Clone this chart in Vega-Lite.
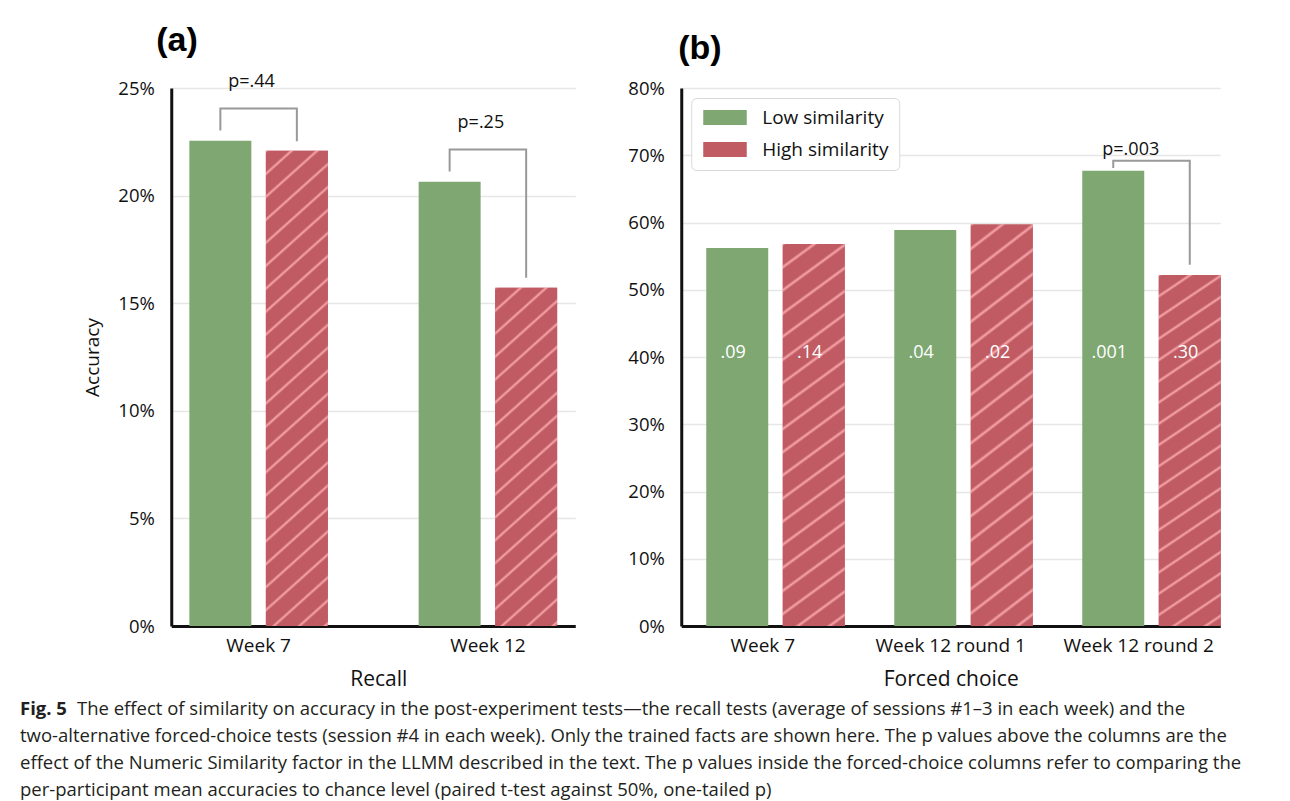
{
  "$schema": "https://vega.github.io/schema/vega-lite/v6.json",
  "background": "white",
  "padding": {"left": 20, "top": 23, "right": 0, "bottom": 0},
  "datasets": {
    "recall": [
      {"week": "Week 7", "similarity": "Low similarity", "accuracy": 0.2255},
      {"week": "Week 7", "similarity": "High similarity", "accuracy": 0.2208},
      {"week": "Week 12", "similarity": "Low similarity", "accuracy": 0.2064},
      {"week": "Week 12", "similarity": "High similarity", "accuracy": 0.1572}
    ],
    "forced": [
      {"week": "Week 7", "similarity": "Low similarity", "accuracy": 0.562, "p_chance": ".09"},
      {"week": "Week 7", "similarity": "High similarity", "accuracy": 0.568, "p_chance": ".14"},
      {"week": "Week 12 round 1", "similarity": "Low similarity", "accuracy": 0.589, "p_chance": ".04"},
      {"week": "Week 12 round 1", "similarity": "High similarity", "accuracy": 0.597, "p_chance": ".02"},
      {"week": "Week 12 round 2", "similarity": "Low similarity", "accuracy": 0.677, "p_chance": ".001"},
      {"week": "Week 12 round 2", "similarity": "High similarity", "accuracy": 0.522, "p_chance": ".30"}
    ],
    "recall_brackets": [
      {"week": "Week 7", "similarity": "Low similarity", "step": 1, "y": 0.2303},
      {"week": "Week 7", "similarity": "Low similarity", "step": 2, "y": 0.2405},
      {"week": "Week 7", "similarity": "High similarity", "step": 3, "y": 0.2405},
      {"week": "Week 7", "similarity": "High similarity", "step": 4, "y": 0.2252},
      {"week": "Week 12", "similarity": "Low similarity", "step": 1, "y": 0.2112},
      {"week": "Week 12", "similarity": "Low similarity", "step": 2, "y": 0.2214},
      {"week": "Week 12", "similarity": "High similarity", "step": 3, "y": 0.2214},
      {"week": "Week 12", "similarity": "High similarity", "step": 4, "y": 0.1618}
    ],
    "recall_p": [
      {"week": "Week 7", "y": 0.2529, "label": "p=.44"},
      {"week": "Week 12", "y": 0.2338, "label": "p=.25"}
    ],
    "forced_brackets": [
      {"week": "Week 12 round 2", "similarity": "Low similarity", "step": 1, "y": 0.681},
      {"week": "Week 12 round 2", "similarity": "Low similarity", "step": 2, "y": 0.692},
      {"week": "Week 12 round 2", "similarity": "High similarity", "step": 3, "y": 0.692},
      {"week": "Week 12 round 2", "similarity": "High similarity", "step": 4, "y": 0.537}
    ],
    "forced_p": [
      {"week": "Week 12 round 2", "y": 0.708, "label": "p=.003"}
    ],
    "caption": [
      {"line": 1, "part": "label", "text": "Fig. 5"},
      {"line": 1, "part": "lead", "text": "The effect of similarity on accuracy in the post-experiment tests—the recall tests (average of sessions #1–3 in each week) and the"},
      {"line": 2, "part": "body", "text": "two-alternative forced-choice tests (session #4 in each week). Only the trained facts are shown here. The p values above the columns are the"},
      {"line": 3, "part": "body", "text": "effect of the Numeric Similarity factor in the LLMM described in the text. The p values inside the forced-choice columns refer to comparing the"},
      {"line": 4, "part": "body", "text": "per-participant mean accuracies to chance level (paired t-test against 50%, one-tailed p)"}
    ]
  },
  "vconcat": [
    {
      "hconcat": [
        {
          "title": {"text": "(a)", "dx": -15, "offset": 15},
          "width": 404,
          "height": 538,
          "layer": [
            {
              "data": {"name": "recall"},
              "mark": {"type": "bar"},
              "encoding": {
                "x": {"field": "week", "type": "nominal", "scale": {"domain": ["Week 7", "Week 12"], "paddingInner": 0.396, "paddingOuter": 0.079}, "axis": {"title": "Recall", "titleX": 207}},
                "xOffset": {"field": "similarity", "type": "nominal", "scale": {"domain": ["Low similarity", "High similarity"], "paddingInner": 0.19, "paddingOuter": 0}},
                "y": {"field": "accuracy", "type": "quantitative", "scale": {"domain": [0, 0.25], "nice": false}, "axis": {"title": "Accuracy", "values": [0, 0.05, 0.1, 0.15, 0.2, 0.25], "format": ".0%"}},
                "color": {"field": "similarity", "type": "nominal", "scale": {"domain": ["Low similarity", "High similarity"], "range": ["#7ea772", "#c05b63"]}, "legend": null}
              }
            },
            {
              "data": {"name": "recall"},
              "transform": [{"filter": "datum.similarity === 'High similarity' && datum.week === 'Week 7'"}],
              "mark": {"type": "bar", "fill": {"gradient": "linear", "x1": 0, "y1": 0, "x2": 0.1339, "y2": 1.1441, "stops": [{"offset":0,"color":"#f8a5aa"},{"offset":0.005,"color":"#c05b63"},{"offset":0.0367,"color":"#c05b63"},{"offset":0.0417,"color":"#f8a5aa"},{"offset":0.0467,"color":"#c05b63"},{"offset":0.0783,"color":"#c05b63"},{"offset":0.0833,"color":"#f8a5aa"},{"offset":0.0883,"color":"#c05b63"},{"offset":0.12,"color":"#c05b63"},{"offset":0.125,"color":"#f8a5aa"},{"offset":0.13,"color":"#c05b63"},{"offset":0.1617,"color":"#c05b63"},{"offset":0.1667,"color":"#f8a5aa"},{"offset":0.1717,"color":"#c05b63"},{"offset":0.2033,"color":"#c05b63"},{"offset":0.2083,"color":"#f8a5aa"},{"offset":0.2133,"color":"#c05b63"},{"offset":0.245,"color":"#c05b63"},{"offset":0.25,"color":"#f8a5aa"},{"offset":0.255,"color":"#c05b63"},{"offset":0.2867,"color":"#c05b63"},{"offset":0.2917,"color":"#f8a5aa"},{"offset":0.2967,"color":"#c05b63"},{"offset":0.3283,"color":"#c05b63"},{"offset":0.3333,"color":"#f8a5aa"},{"offset":0.3383,"color":"#c05b63"},{"offset":0.37,"color":"#c05b63"},{"offset":0.375,"color":"#f8a5aa"},{"offset":0.38,"color":"#c05b63"},{"offset":0.4117,"color":"#c05b63"},{"offset":0.4167,"color":"#f8a5aa"},{"offset":0.4217,"color":"#c05b63"},{"offset":0.4533,"color":"#c05b63"},{"offset":0.4583,"color":"#f8a5aa"},{"offset":0.4633,"color":"#c05b63"},{"offset":0.495,"color":"#c05b63"},{"offset":0.5,"color":"#f8a5aa"},{"offset":0.505,"color":"#c05b63"},{"offset":0.5367,"color":"#c05b63"},{"offset":0.5417,"color":"#f8a5aa"},{"offset":0.5467,"color":"#c05b63"},{"offset":0.5783,"color":"#c05b63"},{"offset":0.5833,"color":"#f8a5aa"},{"offset":0.5883,"color":"#c05b63"},{"offset":0.62,"color":"#c05b63"},{"offset":0.625,"color":"#f8a5aa"},{"offset":0.63,"color":"#c05b63"},{"offset":0.6617,"color":"#c05b63"},{"offset":0.6667,"color":"#f8a5aa"},{"offset":0.6717,"color":"#c05b63"},{"offset":0.7033,"color":"#c05b63"},{"offset":0.7083,"color":"#f8a5aa"},{"offset":0.7133,"color":"#c05b63"},{"offset":0.745,"color":"#c05b63"},{"offset":0.75,"color":"#f8a5aa"},{"offset":0.755,"color":"#c05b63"},{"offset":0.7867,"color":"#c05b63"},{"offset":0.7917,"color":"#f8a5aa"},{"offset":0.7967,"color":"#c05b63"},{"offset":0.8283,"color":"#c05b63"},{"offset":0.8333,"color":"#f8a5aa"},{"offset":0.8383,"color":"#c05b63"},{"offset":0.87,"color":"#c05b63"},{"offset":0.875,"color":"#f8a5aa"},{"offset":0.88,"color":"#c05b63"},{"offset":0.9117,"color":"#c05b63"},{"offset":0.9167,"color":"#f8a5aa"},{"offset":0.9217,"color":"#c05b63"},{"offset":0.9533,"color":"#c05b63"},{"offset":0.9583,"color":"#f8a5aa"},{"offset":0.9633,"color":"#c05b63"},{"offset":0.995,"color":"#c05b63"},{"offset":1,"color":"#f8a5aa"}]}},
              "encoding": {
                "x": {"field": "week", "type": "nominal"},
                "xOffset": {"field": "similarity", "type": "nominal"},
                "y": {"field": "accuracy", "type": "quantitative"}
              }
            },
            {
              "data": {"name": "recall"},
              "transform": [{"filter": "datum.similarity === 'High similarity' && datum.week === 'Week 12'"}],
              "mark": {"type": "bar", "fill": {"gradient": "linear", "x1": 0, "y1": 0, "x2": 0.2607, "y2": 1.5855, "stops": [{"offset":0,"color":"#f8a5aa"},{"offset":0.005,"color":"#c05b63"},{"offset":0.0367,"color":"#c05b63"},{"offset":0.0417,"color":"#f8a5aa"},{"offset":0.0467,"color":"#c05b63"},{"offset":0.0783,"color":"#c05b63"},{"offset":0.0833,"color":"#f8a5aa"},{"offset":0.0883,"color":"#c05b63"},{"offset":0.12,"color":"#c05b63"},{"offset":0.125,"color":"#f8a5aa"},{"offset":0.13,"color":"#c05b63"},{"offset":0.1617,"color":"#c05b63"},{"offset":0.1667,"color":"#f8a5aa"},{"offset":0.1717,"color":"#c05b63"},{"offset":0.2033,"color":"#c05b63"},{"offset":0.2083,"color":"#f8a5aa"},{"offset":0.2133,"color":"#c05b63"},{"offset":0.245,"color":"#c05b63"},{"offset":0.25,"color":"#f8a5aa"},{"offset":0.255,"color":"#c05b63"},{"offset":0.2867,"color":"#c05b63"},{"offset":0.2917,"color":"#f8a5aa"},{"offset":0.2967,"color":"#c05b63"},{"offset":0.3283,"color":"#c05b63"},{"offset":0.3333,"color":"#f8a5aa"},{"offset":0.3383,"color":"#c05b63"},{"offset":0.37,"color":"#c05b63"},{"offset":0.375,"color":"#f8a5aa"},{"offset":0.38,"color":"#c05b63"},{"offset":0.4117,"color":"#c05b63"},{"offset":0.4167,"color":"#f8a5aa"},{"offset":0.4217,"color":"#c05b63"},{"offset":0.4533,"color":"#c05b63"},{"offset":0.4583,"color":"#f8a5aa"},{"offset":0.4633,"color":"#c05b63"},{"offset":0.495,"color":"#c05b63"},{"offset":0.5,"color":"#f8a5aa"},{"offset":0.505,"color":"#c05b63"},{"offset":0.5367,"color":"#c05b63"},{"offset":0.5417,"color":"#f8a5aa"},{"offset":0.5467,"color":"#c05b63"},{"offset":0.5783,"color":"#c05b63"},{"offset":0.5833,"color":"#f8a5aa"},{"offset":0.5883,"color":"#c05b63"},{"offset":0.62,"color":"#c05b63"},{"offset":0.625,"color":"#f8a5aa"},{"offset":0.63,"color":"#c05b63"},{"offset":0.6617,"color":"#c05b63"},{"offset":0.6667,"color":"#f8a5aa"},{"offset":0.6717,"color":"#c05b63"},{"offset":0.7033,"color":"#c05b63"},{"offset":0.7083,"color":"#f8a5aa"},{"offset":0.7133,"color":"#c05b63"},{"offset":0.745,"color":"#c05b63"},{"offset":0.75,"color":"#f8a5aa"},{"offset":0.755,"color":"#c05b63"},{"offset":0.7867,"color":"#c05b63"},{"offset":0.7917,"color":"#f8a5aa"},{"offset":0.7967,"color":"#c05b63"},{"offset":0.8283,"color":"#c05b63"},{"offset":0.8333,"color":"#f8a5aa"},{"offset":0.8383,"color":"#c05b63"},{"offset":0.87,"color":"#c05b63"},{"offset":0.875,"color":"#f8a5aa"},{"offset":0.88,"color":"#c05b63"},{"offset":0.9117,"color":"#c05b63"},{"offset":0.9167,"color":"#f8a5aa"},{"offset":0.9217,"color":"#c05b63"},{"offset":0.9533,"color":"#c05b63"},{"offset":0.9583,"color":"#f8a5aa"},{"offset":0.9633,"color":"#c05b63"},{"offset":0.995,"color":"#c05b63"},{"offset":1,"color":"#f8a5aa"}]}},
              "encoding": {
                "x": {"field": "week", "type": "nominal"},
                "xOffset": {"field": "similarity", "type": "nominal"},
                "y": {"field": "accuracy", "type": "quantitative"}
              }
            },
            {
              "data": {"name": "recall_brackets"},
              "mark": {"type": "line", "color": "#999999", "strokeWidth": 2, "strokeJoin": "miter"},
              "encoding": {
                "x": {"field": "week", "type": "nominal"},
                "xOffset": {"field": "similarity", "type": "nominal"},
                "y": {"field": "y", "type": "quantitative"},
                "detail": {"field": "week"},
                "order": {"field": "step", "type": "quantitative"}
              }
            },
            {
              "data": {"name": "recall_p"},
              "mark": {"type": "text", "fontSize": 18, "dx": -7, "color": "#111111"},
              "encoding": {
                "x": {"field": "week", "type": "nominal"},
                "y": {"field": "y", "type": "quantitative"},
                "text": {"field": "label"}
              }
            }
          ]
        },
        {
          "title": {"text": "(b)", "dx": -3, "offset": 13},
          "width": 539,
          "height": 538,
          "layer": [
            {
              "data": {"name": "forced"},
              "mark": {"type": "bar"},
              "encoding": {
                "x": {"field": "week", "type": "nominal", "scale": {"domain": ["Week 7", "Week 12 round 1", "Week 12 round 2"], "paddingInner": 0.399, "paddingOuter": 0.133}, "axis": {"title": "Forced choice"}},
                "xOffset": {"field": "similarity", "type": "nominal", "scale": {"domain": ["Low similarity", "High similarity"], "paddingInner": 0.177, "paddingOuter": 0}},
                "y": {"field": "accuracy", "type": "quantitative", "scale": {"domain": [0, 0.8], "nice": false}, "axis": {"title": null, "values": [0, 0.1, 0.2, 0.3, 0.4, 0.5, 0.6, 0.7, 0.8], "format": ".0%"}},
                "color": {
                  "field": "similarity", "type": "nominal",
                  "scale": {"domain": ["Low similarity", "High similarity"], "range": ["#7ea772", "#c05b63"]},
                  "legend": {
                    "title": null, "orient": "top-left", "offset": 10, "padding": 10, "rowPadding": 12,
                    "labelFontSize": 19, "labelFont": "Open Sans", "labelColor": "#111111", "labelOffset": 42,
                    "symbolType": "M-1,-1H4.8V1H-1Z", "symbolSize": 225, "symbolStrokeWidth": 0,
                    "strokeColor": "#d9d9d9", "fillColor": "white", "cornerRadius": 5,
                    "encode": {"symbols": {"update": {"fill": [
                      {"test": "datum.value === 'High similarity'", "value": {"gradient": "linear", "x1": 0, "y1": 0, "x2": 12.45, "y2": 4.855, "stops": [{"offset":0,"color":"#f8a5aa"},{"offset":0.005,"color":"#c05b63"},{"offset":0.0367,"color":"#c05b63"},{"offset":0.0417,"color":"#f8a5aa"},{"offset":0.0467,"color":"#c05b63"},{"offset":0.0783,"color":"#c05b63"},{"offset":0.0833,"color":"#f8a5aa"},{"offset":0.0883,"color":"#c05b63"},{"offset":0.12,"color":"#c05b63"}]}},
                      {"value": "#7ea772"}
                    ]}}}
                  }
                }
              }
            },
            {
              "data": {"name": "forced"},
              "transform": [{"filter": "datum.similarity === 'High similarity'"}],
              "mark": {"type": "bar", "fill": {"gradient": "linear", "x1": 0, "y1": 0, "x2": 0.1701, "y2": 1.4324, "stops": [{"offset":0,"color":"#f8a5aa"},{"offset":0.005,"color":"#c05b63"},{"offset":0.0367,"color":"#c05b63"},{"offset":0.0417,"color":"#f8a5aa"},{"offset":0.0467,"color":"#c05b63"},{"offset":0.0783,"color":"#c05b63"},{"offset":0.0833,"color":"#f8a5aa"},{"offset":0.0883,"color":"#c05b63"},{"offset":0.12,"color":"#c05b63"},{"offset":0.125,"color":"#f8a5aa"},{"offset":0.13,"color":"#c05b63"},{"offset":0.1617,"color":"#c05b63"},{"offset":0.1667,"color":"#f8a5aa"},{"offset":0.1717,"color":"#c05b63"},{"offset":0.2033,"color":"#c05b63"},{"offset":0.2083,"color":"#f8a5aa"},{"offset":0.2133,"color":"#c05b63"},{"offset":0.245,"color":"#c05b63"},{"offset":0.25,"color":"#f8a5aa"},{"offset":0.255,"color":"#c05b63"},{"offset":0.2867,"color":"#c05b63"},{"offset":0.2917,"color":"#f8a5aa"},{"offset":0.2967,"color":"#c05b63"},{"offset":0.3283,"color":"#c05b63"},{"offset":0.3333,"color":"#f8a5aa"},{"offset":0.3383,"color":"#c05b63"},{"offset":0.37,"color":"#c05b63"},{"offset":0.375,"color":"#f8a5aa"},{"offset":0.38,"color":"#c05b63"},{"offset":0.4117,"color":"#c05b63"},{"offset":0.4167,"color":"#f8a5aa"},{"offset":0.4217,"color":"#c05b63"},{"offset":0.4533,"color":"#c05b63"},{"offset":0.4583,"color":"#f8a5aa"},{"offset":0.4633,"color":"#c05b63"},{"offset":0.495,"color":"#c05b63"},{"offset":0.5,"color":"#f8a5aa"},{"offset":0.505,"color":"#c05b63"},{"offset":0.5367,"color":"#c05b63"},{"offset":0.5417,"color":"#f8a5aa"},{"offset":0.5467,"color":"#c05b63"},{"offset":0.5783,"color":"#c05b63"},{"offset":0.5833,"color":"#f8a5aa"},{"offset":0.5883,"color":"#c05b63"},{"offset":0.62,"color":"#c05b63"},{"offset":0.625,"color":"#f8a5aa"},{"offset":0.63,"color":"#c05b63"},{"offset":0.6617,"color":"#c05b63"},{"offset":0.6667,"color":"#f8a5aa"},{"offset":0.6717,"color":"#c05b63"},{"offset":0.7033,"color":"#c05b63"},{"offset":0.7083,"color":"#f8a5aa"},{"offset":0.7133,"color":"#c05b63"},{"offset":0.745,"color":"#c05b63"},{"offset":0.75,"color":"#f8a5aa"},{"offset":0.755,"color":"#c05b63"},{"offset":0.7867,"color":"#c05b63"},{"offset":0.7917,"color":"#f8a5aa"},{"offset":0.7967,"color":"#c05b63"},{"offset":0.8283,"color":"#c05b63"},{"offset":0.8333,"color":"#f8a5aa"},{"offset":0.8383,"color":"#c05b63"},{"offset":0.87,"color":"#c05b63"},{"offset":0.875,"color":"#f8a5aa"},{"offset":0.88,"color":"#c05b63"},{"offset":0.9117,"color":"#c05b63"},{"offset":0.9167,"color":"#f8a5aa"},{"offset":0.9217,"color":"#c05b63"},{"offset":0.9533,"color":"#c05b63"},{"offset":0.9583,"color":"#f8a5aa"},{"offset":0.9633,"color":"#c05b63"},{"offset":0.995,"color":"#c05b63"},{"offset":1,"color":"#f8a5aa"}]}},
              "encoding": {
                "x": {"field": "week", "type": "nominal"},
                "xOffset": {"field": "similarity", "type": "nominal"},
                "y": {"field": "accuracy", "type": "quantitative"}
              }
            },
            {
              "data": {"name": "forced"},
              "mark": {"type": "text", "fontSize": 18, "dx": -4, "color": "white", "baseline": "middle"},
              "encoding": {
                "x": {"field": "week", "type": "nominal"},
                "xOffset": {"field": "similarity", "type": "nominal"},
                "y": {"datum": 0.406, "type": "quantitative"},
                "text": {"field": "p_chance"}
              }
            },
            {
              "data": {"name": "forced_brackets"},
              "mark": {"type": "line", "color": "#999999", "strokeWidth": 2, "strokeJoin": "miter"},
              "encoding": {
                "x": {"field": "week", "type": "nominal"},
                "xOffset": {"field": "similarity", "type": "nominal"},
                "y": {"field": "y", "type": "quantitative"},
                "detail": {"field": "week"},
                "order": {"field": "step", "type": "quantitative"}
              }
            },
            {
              "data": {"name": "forced_p"},
              "mark": {"type": "text", "fontSize": 18, "dx": -8, "color": "#111111"},
              "encoding": {
                "x": {"field": "week", "type": "nominal"},
                "y": {"field": "y", "type": "quantitative"},
                "text": {"field": "label"}
              }
            }
          ]
        }
      ],
      "spacing": 106,
      "bounds": "flush",
      "resolve": {"scale": {"color": "independent"}, "legend": {"color": "independent"}}
    },
    {
      "width": 1352,
      "height": 107,
      "data": {"name": "caption"},
      "encoding": {
        "y": {"field": "line", "type": "ordinal", "scale": {"type": "point", "padding": 0.5}, "axis": null},
        "x": {"datum": 0, "type": "quantitative", "scale": {"domain": [0, 1]}, "axis": null},
        "text": {"field": "text"}
      },
      "layer": [
        {
          "transform": [{"filter": "datum.part === 'label'"}],
          "mark": {"type": "text", "align": "left", "baseline": "middle", "font": "Open Sans", "fontSize": 18.5, "fontWeight": "bold", "color": "#231f20"}
        },
        {
          "transform": [{"filter": "datum.part === 'lead'"}],
          "mark": {"type": "text", "align": "left", "baseline": "middle", "font": "Open Sans", "fontSize": 18.5, "dx": 57, "color": "#231f20"}
        },
        {
          "transform": [{"filter": "datum.part === 'body'"}],
          "mark": {"type": "text", "align": "left", "baseline": "middle", "font": "Open Sans", "fontSize": 18.5, "color": "#231f20"}
        }
      ]
    }
  ],
  "spacing": 7,
  "center": true,
  "config": {
    "font": "Open Sans",
    "view": {"stroke": null},
    "title": {"anchor": "start", "frame": "group", "font": "Liberation Sans", "fontSize": 34, "fontWeight": "bold", "color": "#000000"},
    "axis": {"domainColor": "#111111", "domainWidth": 3, "ticks": false, "tickSize": 0, "labelColor": "#111111", "titleColor": "#111111", "titleFontWeight": "normal", "labelFont": "Open Sans", "titleFont": "Open Sans"},
    "axisX": {"grid": false, "labelAngle": 0, "labelFontSize": 19, "labelPadding": 10, "titleFontSize": 21, "titlePadding": 13},
    "axisY": {"grid": true, "gridColor": "#e6e6e6", "gridWidth": 1.5, "labelFontSize": 18.5, "labelPadding": 17, "titleFontSize": 19, "titlePadding": 14, "minExtent": 55, "maxExtent": 55}
  }
}
